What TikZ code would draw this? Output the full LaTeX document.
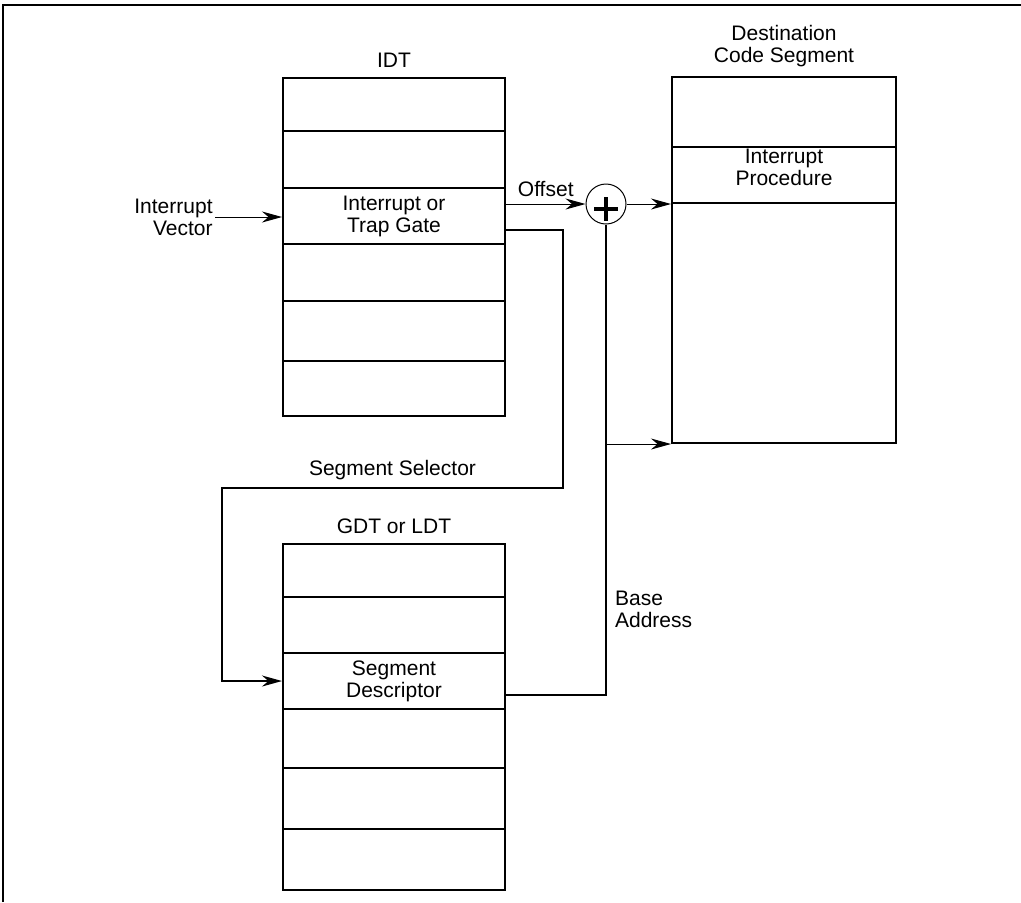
\documentclass[tikz,border=0pt]{standalone}
\usepackage{fontspec}
\setmainfont{Liberation Sans}
\usetikzlibrary{
    arrows.meta,
    positioning,
    calc
}

\begin{document}
\begin{tikzpicture}[
    x=0.5pt, y=-0.5pt,
    >={Stealth[length=10pt, width=5.5pt]},
    every node/.style={font=\fontsize{10.5}{11}\selectfont},
    cell/.style={draw, line width=1pt, inner sep=0pt, align=center},
    wire/.style={line width=1pt},
    feed/.style={line width=0.5pt, ->}
]

\useasboundingbox (0,0) rectangle (1021,902);
\draw[line width=1pt] (3,902) -- (3,5) -- (1021,5);

% IDT
\foreach \i/\t/\b in {1/78/131, 2/131/188, 3/188/244, 4/244/301, 5/301/361, 6/361/416}
    \node[cell, minimum width=111pt, minimum height={(\b-\t)*0.5pt}]
        (idt\i) at (394, {(\t+\b)/2}) {};
\node[above=1pt of idt1] (idttitle) {IDT};
\node[align=center] (gatetext) at (idt3.center) {Interrupt or\\Trap Gate};

% GDT or LDT
\foreach \i/\t/\b in {1/544/597, 2/597/653, 3/653/709, 4/709/768, 5/768/829, 6/829/890}
    \node[cell, minimum width=111pt, minimum height={(\b-\t)*0.5pt}]
        (gdt\i) at (394, {(\t+\b)/2}) {};
\node[above=1pt of gdt1] (gdttitle) {GDT or LDT};
\node[align=center] (desctext) at (gdt3.center) {Segment\\Descriptor};

% destination code segment
\foreach \i/\t/\b in {1/77/147, 2/147/203, 3/203/443}
    \node[cell, minimum width=112pt, minimum height={(\b-\t)*0.5pt}]
        (dest\i) at (784, {(\t+\b)/2}) {};
\node[above=1pt of dest1, align=center] (desttitle) {Destination\\Code Segment};
\node[align=center, yshift=4pt] (proctext) at (dest2.center) {Interrupt\\Procedure};

% adder
\node[circle, draw, line width=0.5pt, minimum size=20pt, inner sep=0pt] (sum) at (606,204) {};
\coordinate (plusc) at ([yshift=-2.5pt]sum.center);
\draw[line width=2pt] ([xshift=-6pt]plusc) -- ([xshift=6pt]plusc);
\draw[line width=2pt] ([yshift=6pt]plusc) -- ([yshift=-6pt]plusc);

% interrupt vector
\coordinate (vec) at (215,217);
\node[left=0pt of vec, inner sep=1pt, align=right] (vectext) {Interrupt\\Vector};
\draw[feed] (vec) -- (vec -| idt3.west);

% offset
\draw[feed]
    (sum.west -| idt3.east) -- (sum.west)
    node[midway, above] (offsettext) {Offset};
\draw[feed] (sum.east) -- (sum.east -| dest3.west);

% segment selector
\coordinate (selright) at (563,488);
\coordinate (selleft) at (222,488);
\draw[wire, ->]
    ([yshift=-7pt]idt3.east) -| (selright) -- (selleft)
    node[midway, above] (seltext) {Segment Selector}
    |- (gdt3.west);

% base address
\draw[wire] ([yshift=-7pt]gdt3.east) -| (sum.south);
\coordinate (basetap) at (sum |- dest3.south);
\draw[feed] (basetap) -- (dest3.south west);
\coordinate (baselbl) at (606,609);
\node[right=1pt of baselbl, align=left] (basetext) {Base\\Address};

\end{tikzpicture}
\end{document}
